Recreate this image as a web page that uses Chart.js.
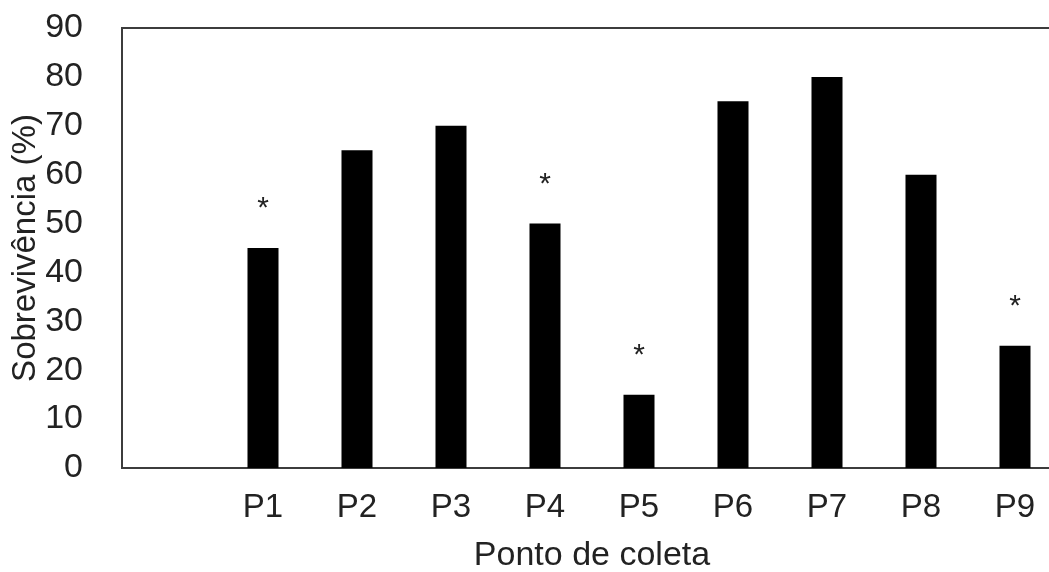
<!doctype html>
<html lang="pt">
  <head>
    <meta charset="UTF-8" />
    <title>Sobrevivência por ponto de coleta</title>
    <script src="https://cdn.jsdelivr.net/npm/chart.js"></script>
    <style>
      html, body { margin: 0; padding: 0; overflow: hidden; background: #fff; }
    </style>
  </head>
  <body>
    <canvas id="myChart" width="1064" height="572"></canvas>
    <script>
      // first slot is empty in the original figure
      const pontos = ['', 'P1', 'P2', 'P3', 'P4', 'P5', 'P6', 'P7', 'P8', 'P9']
      const sobrevivencia = [null, 45, 65, 70, 50, 15, 75, 80, 60, 25]
      const marcas = ['', '*', '', '', '*', '*', '', '', '', '*']
      const yTicks = [0, 10, 20, 30, 40, 50, 60, 70, 80, 90]

      const fontFamily = "'Liberation Sans', Arial, sans-serif"
      const axisColor = '#3c3c3c'

      // asterisks above the bars + the top/right frame lines
      const extras = {
        id: 'extras',
        afterDatasetsDraw(chart) {
          const { ctx, chartArea } = chart
          const meta = chart.getDatasetMeta(0)
          const y = chart.scales.y
          ctx.save()
          ctx.fillStyle = '#222'
          ctx.font = '30px ' + fontFamily
          ctx.textAlign = 'center'
          ctx.textBaseline = 'alphabetic'
          marcas.forEach((m, i) => {
            if (!m || sobrevivencia[i] == null) return
            const bar = meta.data[i]
            ctx.fillText(m, bar.x, y.getPixelForValue(sobrevivencia[i]) - 31)
          })
          ctx.strokeStyle = axisColor
          ctx.lineWidth = 2
          ctx.beginPath()
          ctx.moveTo(chartArea.left - 1, chartArea.top)
          ctx.lineTo(chartArea.right, chartArea.top)
          ctx.lineTo(chartArea.right, chartArea.bottom)
          ctx.stroke()
          ctx.restore()
        }
      }

      const ctx = document.getElementById('myChart').getContext('2d')
      new Chart(ctx, {
        type: 'bar',
        data: {
          labels: pontos,
          datasets: [
            {
              data: sobrevivencia,
              backgroundColor: '#000',
              borderWidth: 0,
              barPercentage: 0.33,
              categoryPercentage: 1
            }
          ]
        },
        options: {
          responsive: false,
          animation: false,
          layout: { padding: { top: 28, right: 2, bottom: 0, left: 0 } },
          plugins: { legend: { display: false }, tooltip: { enabled: false } },
          scales: {
            x: {
              grid: { display: false },
              border: { display: true, color: axisColor, width: 2 },
              ticks: {
                color: '#222',
                font: { family: fontFamily, size: 33 },
                padding: 12,
                maxRotation: 0,
                autoSkip: false
              },
              title: {
                display: true,
                text: 'Ponto de coleta',
                color: '#222',
                font: { family: fontFamily, size: 34 },
                padding: { top: 0, bottom: -4 }
              },
              afterFit: (scale) => { scale.height = 104 }
            },
            y: {
              min: 0,
              max: 90,
              grid: { display: false },
              border: { display: true, color: axisColor, width: 2 },
              afterBuildTicks: (scale) => {
                scale.ticks = yTicks.map((v) => ({ value: v }))
              },
              ticks: {
                color: '#222',
                font: { family: fontFamily, size: 34 },
                padding: 31
              },
              title: {
                display: true,
                text: 'Sobrevivência (%)',
                color: '#222',
                font: { family: fontFamily, size: 33 },
                padding: { top: 6, bottom: 0 }
              },
              afterFit: (scale) => {
                scale.width = 122
                scale.paddingTop = 0
                scale.paddingBottom = 0
              }
            }
          }
        },
        plugins: [extras]
      })
    </script>
  </body>
</html>
